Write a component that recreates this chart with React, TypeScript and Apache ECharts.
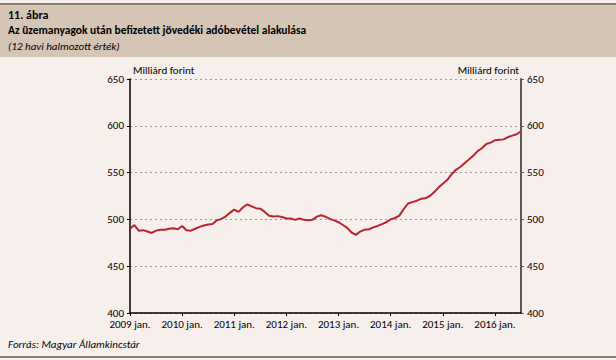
import React, { useEffect, useRef } from "react";
import * as echarts from "echarts";

const monthCount = 91;
const categories: string[] = [];
for (let i = 0; i < monthCount; i++) {
  const y = 2009 + Math.floor(i / 12);
  const m = (i % 12) + 1;
  categories.push(`${y}-${m < 10 ? "0" + m : m}`);
}

const revenue = [
  490, 494, 488, 488.5, 487, 485.5, 488, 489, 489, 490, 490.5, 489.5,
  493, 488.5, 488, 490, 492, 493.5, 494.5, 495, 499, 500.5, 503, 507,
  510.5, 508, 513, 516, 514, 512, 511.5, 508, 504, 503, 503.5, 502.5,
  501, 501, 499.5, 501, 499.5, 499, 499.5, 503, 504.5, 503, 500.5, 499,
  497, 494, 491, 486, 483.5, 487, 489, 489.5, 491.5, 493, 495, 497,
  500, 501.5, 504, 511, 517, 518.5, 520, 522, 522.5, 525, 529, 534,
  538, 542, 548, 553, 556, 560, 564, 568, 573, 576, 580.5, 582,
  584.5, 585, 585.5, 588, 589.5, 591, 594,
];

const yTicks = [400, 450, 500, 550, 600, 650];
const titleLines = ["11. ábra", "Az üzemanyagok után befizetett jövedéki adóbevétel alakulása", "(12 havi halmozott érték)"];
const unitLabel = "Milliárd forint";
const sourceText = "Forrás: Magyar Államkincstár";

const FONT = "Carlito, 'Liberation Sans Narrow', 'DejaVu Sans Condensed', 'Liberation Sans', sans-serif";

export default function App() {
  const ref = useRef<HTMLDivElement>(null);
  useEffect(() => {
    if (!ref.current) return;
    const chart = echarts.init(ref.current, null, { renderer: "svg" });
    const yAxisCommon = {
      type: "value" as const,
      min: yTicks[0],
      max: yTicks[yTicks.length - 1],
      interval: 50,
      axisLabel: { color: "#000", fontSize: 11, fontFamily: FONT, margin: 6 },
      axisTick: { show: true, length: 3, lineStyle: { color: "#000" } },
    };
    chart.setOption({
      animation: false,
      backgroundColor: "#f7efec",
      textStyle: { fontFamily: FONT },
      graphic: [
        { type: "rect", shape: { x: 0, y: 5, width: 616, height: 52 }, style: { fill: "#d5c5b5" }, silent: true, z: -10 },
        { type: "rect", shape: { x: 0, y: 3, width: 616, height: 2 }, style: { fill: "#8e7b68" }, silent: true, z: -10 },
        { type: "rect", shape: { x: 0, y: 356, width: 616, height: 2 }, style: { fill: "#8e7b68" }, silent: true, z: -10 },
        { type: "text", left: 8, top: 9, style: { text: titleLines[0], font: `bold 12px ${FONT}`, fill: "#000" } },
        { type: "text", left: 8, top: 24, style: { text: titleLines[1], font: `bold 11.5px ${FONT}`, fill: "#000" } },
        { type: "text", left: 8, top: 41, style: { text: titleLines[2], font: `italic 11px ${FONT}`, fill: "#000" } },
        { type: "text", left: 133, top: 65, style: { text: unitLabel, font: `11px ${FONT}`, fill: "#000" } },
        { type: "text", right: 97, top: 65, style: { text: unitLabel, font: `11px ${FONT}`, fill: "#000", align: "right" } },
        { type: "text", left: 8, top: 339, style: { text: sourceText, font: `italic 11px ${FONT}`, fill: "#000" } },
      ],
      grid: { left: 130, right: 95, top: 79, bottom: 47, containLabel: false },
      xAxis: {
        type: "category",
        data: categories,
        boundaryGap: false,
        axisLine: { lineStyle: { color: "#000", width: 1.5 } },
        axisTick: { show: true, interval: 11, length: 3, inside: false, lineStyle: { color: "#000" } },
        axisLabel: {
          interval: 11,
          color: "#000",
          fontSize: 11,
          fontFamily: FONT,
          margin: 6,
          formatter: (v: string) => `${v.slice(0, 4)} jan.`,
        },
        splitLine: { show: false },
      },
      yAxis: [
        {
          ...yAxisCommon,
          position: "left",
          axisLine: { show: true, lineStyle: { color: "#000", width: 1.5 } },
          splitLine: { show: true, lineStyle: { color: "#9a9a9a", type: [2, 3], width: 1 } },
        },
        {
          ...yAxisCommon,
          position: "right",
          axisLine: { show: true, lineStyle: { color: "#5a5a5a", width: 2 } },
          axisTick: { show: true, length: 3, lineStyle: { color: "#5a5a5a" } },
          splitLine: { show: false },
        },
      ],
      series: [
        {
          type: "line",
          data: revenue,
          yAxisIndex: 0,
          showSymbol: false,
          symbol: "none",
          lineStyle: { color: "#b5272d", width: 2 },
        },
      ],
    });
    return () => chart.dispose();
  }, []);
  return (
    <div style={{ position: "absolute", left: 0, top: 0 }}>
      <div ref={ref} style={{ width: 616, height: 360 }} />
    </div>
  );
}
